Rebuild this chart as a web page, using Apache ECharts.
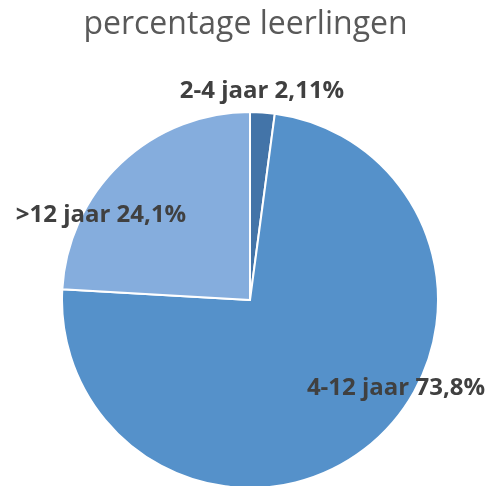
<!DOCTYPE html>
<html><head><meta charset="utf-8">
<script src="https://cdn.jsdelivr.net/npm/echarts@6/dist/echarts.min.js"></script>
<style>html,body{margin:0;padding:0;background:#fff}#c{width:491px;height:486px}</style>
</head><body><div id="c"></div>
<script>
const categories = ['2-4 jaar', '4-12 jaar', '>12 jaar'];
const values = [2.11, 73.8, 24.1];
const valueLabels = ['2,11%', '73,8%', '24,1%'];
const colors = ['#4374a8', '#5591ca', '#85addd'];
const labelSpots = [[262, 91], [396, 388], [101, 215]];

const chart = echarts.init(document.getElementById('c'));
chart.setOption({
  animation: false,
  title: {
    text: 'percentage leerlingen',
    left: 'center', top: 4,
    textStyle: { fontFamily: 'Open Sans', fontWeight: 'normal', fontSize: 32, color: '#595959' }
  },
  series: [{
    type: 'pie',
    center: [250, 300],
    radius: 188,
    startAngle: 90,
    clockwise: true,
    itemStyle: { borderColor: '#fff', borderWidth: 2 },
    label: {
      show: true,
      position: 'inside',
      fontFamily: 'Open Sans', fontWeight: 'bold', fontSize: 24, color: '#404040',
      formatter: p => categories[p.dataIndex] + ' ' + valueLabels[p.dataIndex]
    },
    labelLine: { show: false },
    labelLayout: p => ({ x: labelSpots[p.dataIndex][0], y: labelSpots[p.dataIndex][1], align: 'center', verticalAlign: 'middle' }),
    data: categories.map((c, i) => ({ name: c, value: values[i], itemStyle: { color: colors[i] } }))
  }]
});
</script></body></html>
